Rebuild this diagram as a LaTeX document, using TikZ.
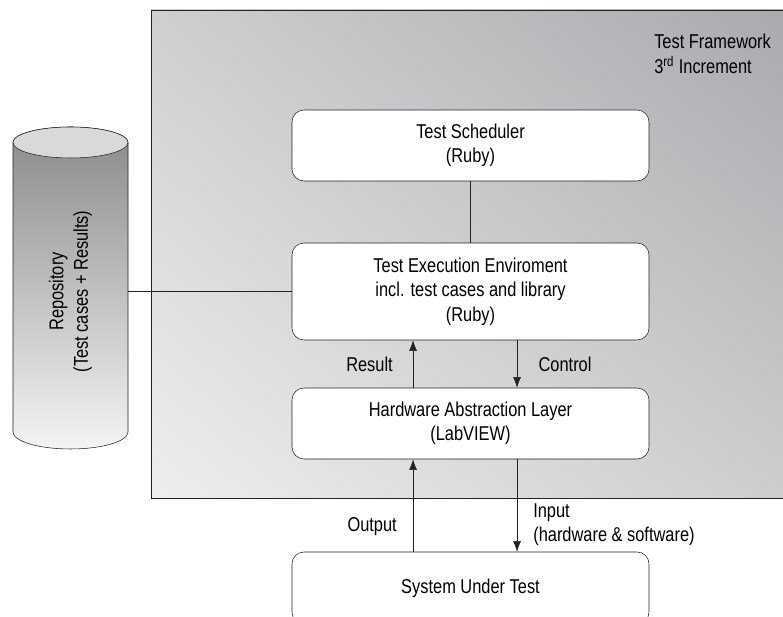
\documentclass[tikz,border=0pt]{standalone}
\usepackage{fontspec}
\setmainfont[FakeStretch=0.82]{Liberation Sans}
\usetikzlibrary{arrows.meta,shadings}

\definecolor{fwtl}{HTML}{CFCFD0}
\definecolor{fwtr}{HTML}{A9AAAE}
\definecolor{fwbl}{HTML}{EEEEEE}
\definecolor{fwbr}{HTML}{CDCDCE}
\definecolor{cyltop}{HTML}{8A8A8C}
\definecolor{cylbot}{HTML}{F4F4F4}
\definecolor{cylend}{HTML}{D9D9DA}
\definecolor{edge}{HTML}{222222}

\begin{document}
\begin{tikzpicture}[x=0.75pt,y=0.75pt,
  every node/.style={font=\fontsize{15}{18.4}\selectfont},
  layer/.style={draw=edge,fill=white,rounded corners=9pt,minimum width=267.75pt,align=center},
  lbl/.style={inner sep=0pt},
  flow/.style={-{Latex[length=8pt,width=6pt]},draw=edge}]
\useasboundingbox (0,0) rectangle (783,617);

% framework background
\shade[upper left=fwtl,upper right=fwtr,lower left=fwbl,lower right=fwbr]
  (151,119) rectangle (790,607);
\draw[edge] (151,119) rectangle (790,607);
\node[lbl,anchor=north west,align=left] (fw) at (654,583) {Test Framework\\3\textsuperscript{rd} Increment};

% repository
\shade[top color=cyltop,bottom color=cylbot,draw=edge]
  (13,474.5) -- (13,185) arc[start angle=180,end angle=360,x radius=43.125pt,y radius=12.75pt]
  -- (128,474.5) arc[start angle=0,end angle=180,x radius=43.125pt,y radius=11.625pt] -- cycle;
\filldraw[fill=cylend,draw=edge] (70.5,474.5) ellipse[x radius=43.125pt,y radius=11.625pt];
\node[minimum width=200pt,minimum height=86.25pt,inner sep=0pt,rotate=90,align=center] (repo) at (70.5,325.5)
  {Repository\\(Test cases + Results)};

% layers
\node[layer,minimum height=53.25pt] (sched) at (470.5,471.5) {Test Scheduler\\(Ruby)};
\node[layer,minimum height=72.75pt] (tee) at (470.5,325.5)
  {Test Execution Enviroment\\incl. test cases and library\\(Ruby)};
\node[layer,minimum height=53.25pt] (hal) at (470.5,193.5) {Hardware Abstraction Layer\\(LabVIEW)};
\node[layer,minimum height=54pt] (sut) at (470.5,29) {System Under Test};

\draw[edge] (sched) -- (tee);
\draw[edge] (repo.south) -- (tee.west);

\draw[flow] ([xshift=-43.1pt]hal.north) -- node[lbl,left=15pt] (res) {Result} ([xshift=-43.1pt]tee.south);
\draw[flow] ([xshift=34.9pt]tee.south) -- node[lbl,right=16pt] (ctl) {Control} ([xshift=34.9pt]hal.north);
\draw[flow] ([xshift=-43.1pt]sut.north) -- node[lbl,left=12pt,pos=0.27] (out) {Output} ([xshift=-43.1pt]hal.south);
\draw[flow] ([xshift=34.9pt]hal.south) -- node[lbl,right=12pt,pos=0.71,align=left] (inp)
  {Input\\(hardware \& software)} ([xshift=34.9pt]sut.north);
\end{tikzpicture}
\end{document}
